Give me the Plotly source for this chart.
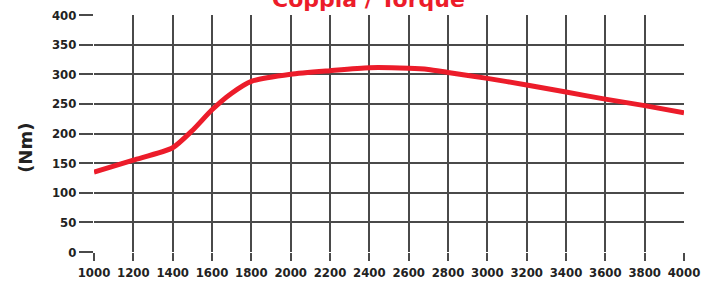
import plotly.graph_objects as go

rpm = [1000, 1200, 1400, 1500, 1600, 1700, 1800, 2000, 2200, 2400, 2600, 2700, 2800, 3000, 3200, 3400, 3600, 3800, 4000]
torque = [135, 155, 176, 205, 240, 268, 288, 300, 306, 311, 310, 308, 303, 293, 282, 270, 258, 247, 235]
x_ticks = list(range(1000, 4001, 200))
y_ticks = list(range(0, 401, 50))

grid_color = "#4a4a4a"
tick_font = dict(family="DejaVu Sans Condensed", size=13, weight="bold", color="#222")
fig = go.Figure()
fig.add_trace(go.Scatter(x=rpm, y=torque, mode="lines",
                         line=dict(color="#ec1c2a", width=5, shape="spline", smoothing=0.6),
                         hoverinfo="skip"))
fig.update_layout(
    width=713, height=284,
    margin=dict(l=94, r=29, t=15, b=32, autoexpand=False),
    paper_bgcolor="white", plot_bgcolor="white",
    showlegend=False,
    font=dict(family="DejaVu Sans Condensed", size=13, color="#222"),
    xaxis=dict(range=[1000, 4000], tickvals=x_ticks, showgrid=True, gridcolor=grid_color, gridwidth=1.5,
               ticks="outside", ticklen=8, tickcolor=grid_color, tickwidth=1.5,
               tickfont=tick_font, automargin=False,
               zeroline=False, showline=False),
    yaxis=dict(range=[0, 400], tickvals=y_ticks, showgrid=True, gridcolor=grid_color, gridwidth=1.5,
               ticks="outside", ticklen=14, tickcolor=grid_color, tickwidth=1.5,
               tickfont=tick_font, automargin=False,
               zeroline=False, showline=False),
    annotations=[
        dict(text="<b>Coppia / Torque</b>", xref="paper", yref="paper", x=0.466, y=1.0,
             xanchor="center", yanchor="bottom", yshift=1, showarrow=False,
             font=dict(family="DejaVu Sans", size=22, color="#ec1c2a")),
        dict(text="<b>(Nm)</b>", xref="paper", yref="paper", x=-0.115, y=0.44,
             xanchor="center", yanchor="middle", textangle=-90, showarrow=False,
             font=dict(family="DejaVu Sans", size=18, color="#222")),
    ],
)
fig.write_html("out.html", config={"displayModeBar": False},
               post_script="document.body.style.margin='0';document.body.style.overflow='hidden';")
